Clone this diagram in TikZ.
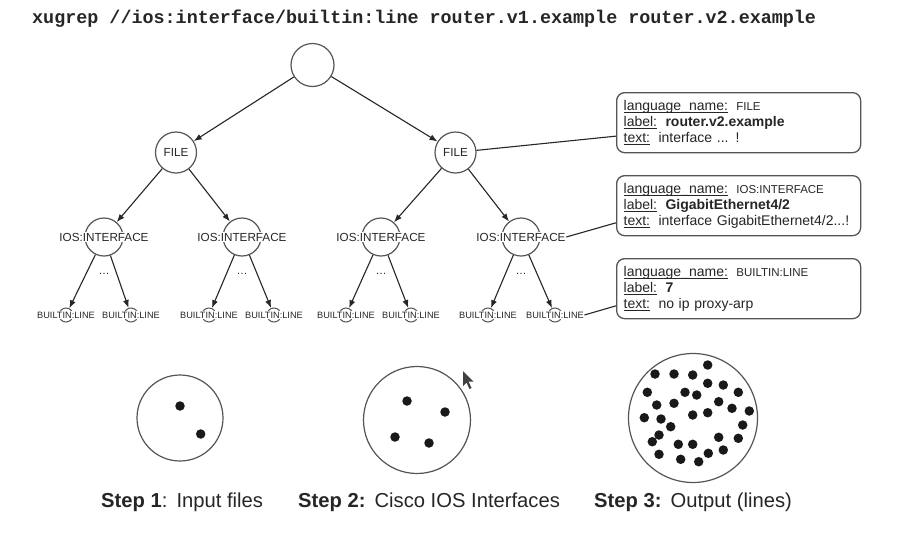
\documentclass[tikz,border=0pt]{standalone}
\usepackage{fontspec}
\setmainfont{Liberation Sans}
\newfontfamily\cmdfont{Liberation Mono}
\usetikzlibrary{arrows.meta,calc}
\definecolor{ink}{HTML}{262626}
\definecolor{ringc}{HTML}{555555}
\newcommand\ulx[1]{\leavevmode\setbox0\hbox{#1}\rlap{\rule[-2.6pt]{\wd0}{0.7pt}}\box0}
\begin{document}
\begin{tikzpicture}[x=1pt,y=-1pt,
  ring/.style={circle,draw=ringc,line width=1.2pt,inner sep=0pt},
  lbl/.style={fill=white,inner sep=0.6pt,text=ink,font=\fontsize{11.7}{12}\selectfont},
  leaflbl/.style={fill=white,inner sep=0.4pt,text=ink,font=\fontsize{9.2}{10}\selectfont},
  arr/.style={draw=ink,line width=1.1pt,-{Latex[length=8pt,width=6pt]}},
  conn/.style={draw=ink,line width=1.1pt},
  infobox/.style={draw=ringc,line width=1.3pt,rounded corners=8pt,minimum height=60pt,
    inner xsep=7pt,inner ysep=4pt,align=left,anchor=north west,text=ink,
    font=\fontsize{14}{16}\selectfont,text width=230pt},
  blackdot/.style={circle,fill=black!90,inner sep=0pt,minimum size=9.5pt},
  steplbl/.style={anchor=west,text=ink,inner sep=0pt,font=\fontsize{20.2}{23}\selectfont},
  dots/.style={text=ink,inner sep=0pt,font=\fontsize{11}{12}\selectfont}]
\useasboundingbox (0,0) rectangle (900,555);
\fill[white] (0,0) rectangle (900,555);

% title
\node[anchor=west,inner sep=0pt,text=ink,font=\cmdfont\bfseries\fontsize{18.4}{20}\selectfont] (title) at (32,19)
  {xugrep //ios:interface/builtin:line router.v1.example router.v2.example};

% tree
\node[ring,minimum size=43pt] (root) at (312.5,65) {};
\node[ring,minimum size=41pt,text=ink,font=\fontsize{11.7}{12}\selectfont] (f1) at (176,152.5) {FILE};
\node[ring,minimum size=41pt,text=ink,font=\fontsize{11.7}{12}\selectfont] (f2) at (455.5,152.5) {FILE};

\foreach \n/\x in {1/104,2/242,3/381,4/521}{
  \node[ring,minimum size=38pt] (i\n) at (\x,237) {};
  \node[lbl] (i\n t) at (i\n) {IOS:INTERFACE};
  \node[dots] (d\n) at (\x,274) {\textellipsis};
}
\foreach \n/\x in {1/66,2/131,3/209,4/274,5/346,6/411,7/488,8/555}{
  \node[ring,minimum size=14pt,line width=1pt] (l\n) at (\x,315) {};
  \node[leaflbl] (l\n t) at (l\n) {BUILTIN:LINE};
}

\draw[arr] (root) -- (f1);
\draw[arr] (root) -- (f2);
\draw[arr] (f1) -- (i1);
\draw[arr] (f1) -- (i2);
\draw[arr] (f2) -- (i3);
\draw[arr] (f2) -- (i4);
\draw[arr] (i1) -- (l1);
\draw[arr] (i1) -- (l2);
\draw[arr] (i2) -- (l3);
\draw[arr] (i2) -- (l4);
\draw[arr] (i3) -- (l5);
\draw[arr] (i3) -- (l6);
\draw[arr] (i4) -- (l7);
\draw[arr] (i4) -- (l8);

% info boxes
\node[infobox] (b1) at (616,92)
  {\ulx{language\_name:}\hspace{0.6em}{\fontsize{11.5}{16}\selectfont FILE}\\
   \ulx{label:}\hspace{0.6em}\textbf{router.v2.example}\\
   \ulx{text:}\hspace{0.6em}interface ... !};
\node[infobox] (b2) at (616,175)
  {\ulx{language\_name:}\hspace{0.6em}{\fontsize{11.5}{16}\selectfont IOS:INTERFACE}\\
   \ulx{label:}\hspace{0.6em}\textbf{GigabitEthernet4/2}\\
   \ulx{text:}\hspace{0.6em}interface GigabitEthernet4/2...!};
\node[infobox] (b3) at (616,258)
  {\ulx{language\_name:}\hspace{0.6em}{\fontsize{11.5}{16}\selectfont BUILTIN:LINE}\\
   \ulx{label:}\hspace{0.6em}\textbf{7}\\
   \ulx{text:}\hspace{0.6em}no ip proxy-arp};

\draw[conn] (f2) -- ($(b1.north west)!0.72!(b1.south west)$);
\draw[conn] (i4t.east) -- ($(b2.north west)!0.78!(b2.south west)$);
\draw[conn] (l8t.east) -- ($(b3.north west)!0.78!(b3.south west)$);

% sets
\node[ring,minimum size=86pt] (c1) at (180,418) {};
\node[blackdot] (c1a) at (180,406) {};
\node[blackdot] (c1b) at (200.7,434) {};

\node[ring,minimum size=107pt] (c2) at (417,420) {};
\foreach \p in {(407,401),(445,412),(395,437),(429,443)}
  \node[blackdot] at \p {};

\node[ring,minimum size=129pt] (c3) at (693,418) {};
\foreach \p in {(707.7,365),(655,374),(674,374),(692.7,375),(707.7,383.3),(723.3,385),
  (647.3,392.3),(685,392.3),(696.7,395),(738.3,392.3),(656.7,405),(674,403.3),
  (718.7,401.7),(732,408.3),(749.3,411),(644.3,417.7),(661,419),(692.7,415),
  (707.7,412.7),(670.7,426.7),(742.7,425),(659,435),(652.3,441.7),(678.3,444.3),
  (692.7,444.3),(718.7,437.3),(738.3,438.3),(659,454.3),(708.3,453.3),(723.3,450),
  (680.7,459.3),(698.7,461.7)}
  \node[blackdot] at \p {};

% cursor
\fill[black!75] (463,371) -- (463,386) -- (466.5,382.5) -- (469.5,389) -- (471.5,388) -- (468.5,381.5) -- (473.5,381.5) -- cycle;

% step labels
\node[steplbl] (s1) at (101,502) {\textbf{Step 1}:\hspace{0.45em}Input files};
\node[steplbl] (s2) at (298,502) {\textbf{Step 2:}\hspace{0.45em}Cisco IOS Interfaces};
\node[steplbl] (s3) at (594,502) {\textbf{Step 3:}\hspace{0.45em}Output (lines)};
\end{tikzpicture}
\end{document}
